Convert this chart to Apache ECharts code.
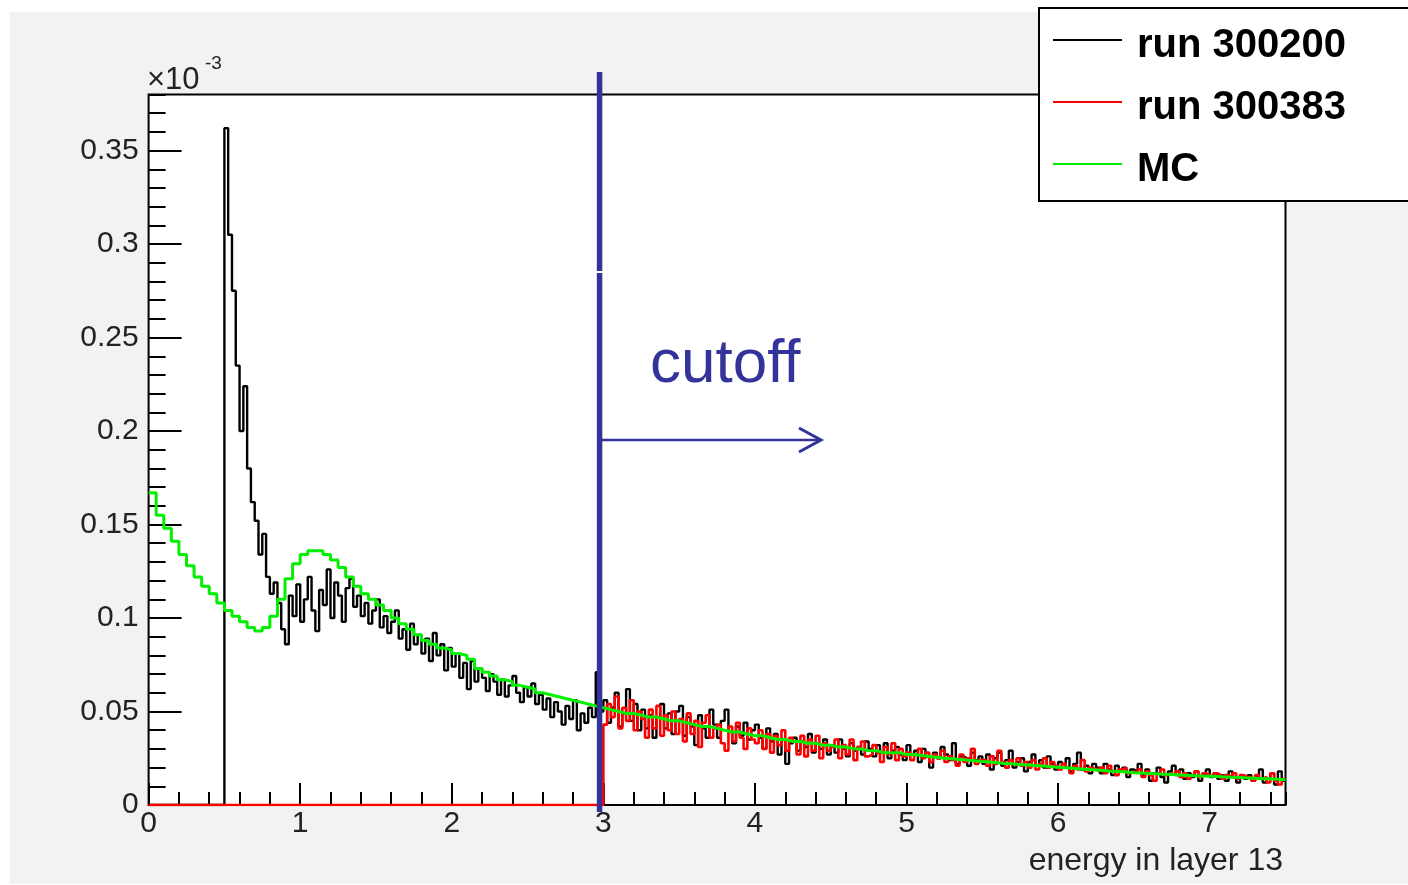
<!DOCTYPE html>
<html>
<head>
<meta charset="utf-8">
<script src="https://cdn.jsdelivr.net/npm/echarts@6/dist/echarts.min.js"></script>
<style>
html,body{margin:0;padding:0;background:#fff;}
#chart{width:1408px;height:885px;}
</style>
</head>
<body>
<div id="chart"></div>
<script>
// ---- data (y values in units of 1e-3) ----
const seriesNames = ['run 300200', 'run 300383', 'MC'];
const xTitle = 'energy in layer 13';
const yExponent = '-3';

const blackStart = 0.5, blackBin = 0.025;
const blackValues = [
 0.362,0.305,0.275,0.235,0.200,0.224,0.180,0.162,0.152,0.134,
 0.145,0.122,0.113,0.119,0.108,0.094,0.086,0.112,0.101,0.118,
 0.098,0.110,0.122,0.104,0.093,0.115,0.107,0.126,0.100,0.119,
 0.112,0.098,0.116,0.121,0.106,0.112,0.101,0.108,0.097,0.104,
 0.110,0.095,0.101,0.092,0.098,0.104,0.089,0.094,0.083,0.097,
 0.086,0.091,0.081,0.089,0.077,0.092,0.080,0.086,0.072,0.084,
 0.074,0.081,0.068,0.076,0.062,0.077,0.066,0.073,0.068,0.061,
 0.070,0.066,0.059,0.067,0.058,0.064,0.069,0.060,0.055,0.063,
 0.058,0.065,0.054,0.059,0.051,0.057,0.047,0.055,0.050,0.043,
 0.053,0.046,0.056,0.040,0.049,0.044,0.052,0.047,0.071,0.050,
 0.056,0.044,0.052,0.060,0.042,0.049,0.062,0.045,0.054,0.040,
 0.051,0.041,0.048,0.036,0.047,0.054,0.041,0.049,0.038,0.050,
 0.053,0.037,0.047,0.042,0.032,0.048,0.041,0.036,0.051,0.043,
 0.036,0.045,0.051,0.039,0.033,0.042,0.037,0.044,0.035,0.040,
 0.043,0.036,0.030,0.041,0.034,0.038,0.027,0.035,0.022,0.033,
 0.036,0.029,0.034,0.031,0.038,0.028,0.033,0.030,0.035,0.027,
 0.032,0.028,0.035,0.030,0.026,0.033,0.029,0.031,0.027,0.034,
 0.030,0.026,0.032,0.028,0.033,0.025,0.029,0.031,0.027,0.024,
 0.032,0.027,0.029,0.023,0.030,0.026,0.020,0.028,0.025,0.031,
 0.027,0.024,0.033,0.022,0.026,0.025,0.021,0.028,0.024,0.026,
 0.022,0.027,0.019,0.025,0.028,0.021,0.024,0.029,0.020,0.023,
 0.025,0.018,0.023,0.027,0.021,0.024,0.020,0.026,0.022,0.019,
 0.023,0.020,0.025,0.018,0.022,0.028,0.019,0.021,0.017,0.022,
 0.020,0.017,0.022,0.019,0.016,0.021,0.018,0.020,0.015,0.019,
 0.018,0.022,0.016,0.019,0.013,0.017,0.020,0.015,0.012,0.018,
 0.021,0.016,0.019,0.014,0.017,0.015,0.018,0.013,0.016,0.019,
 0.015,0.017,0.014,0.016,0.013,0.018,0.015,0.012,0.016,0.014,
 0.016,0.013,0.015,0.019,0.012,0.014,0.017,0.011,0.018,0.013
];

const redStart = 3.0, redBin = 0.025;
const redValues = [
 0.043,0.054,0.047,0.058,0.041,0.052,0.045,0.056,0.040,0.050,
 0.046,0.036,0.051,0.041,0.053,0.037,0.048,0.040,0.050,0.038,
 0.046,0.034,0.049,0.038,0.045,0.031,0.044,0.048,0.036,0.041,
 0.043,0.033,0.029,0.042,0.034,0.044,0.036,0.030,0.041,0.035,
 0.033,0.040,0.030,0.038,0.028,0.037,0.032,0.040,0.029,0.036,
 0.034,0.027,0.037,0.026,0.035,0.029,0.037,0.025,0.033,0.029,
 0.031,0.035,0.025,0.032,0.027,0.035,0.024,0.031,0.034,0.026,
 0.027,0.032,0.028,0.023,0.031,0.027,0.033,0.024,0.030,0.026,
 0.028,0.024,0.027,0.030,0.025,0.028,0.023,0.027,0.025,0.029,
 0.023,0.026,0.024,0.021,0.027,0.023,0.025,0.030,0.022,0.024,
 0.024,0.021,0.026,0.022,0.029,0.023,0.020,0.024,0.022,0.025,
 0.021,0.023,0.020,0.024,0.019,0.022,0.025,0.020,0.023,0.021,
 0.019,0.022,0.020,0.017,0.021,0.019,0.024,0.018,0.020,0.019,
 0.018,0.020,0.017,0.021,0.018,0.016,0.019,0.020,0.017,0.018,
 0.017,0.019,0.015,0.018,0.016,0.013,0.017,0.019,0.016,0.017,
 0.016,0.018,0.015,0.017,0.014,0.016,0.018,0.015,0.017,0.016,
 0.015,0.017,0.016,0.014,0.016,0.015,0.017,0.014,0.016,0.015,
 0.015,0.013,0.016,0.014,0.015,0.012,0.017,0.013,0.011,0.014
];

const mcStart = 0.0, mcBin = 0.05;
const mcValues = [
 0.167,0.155,0.148,0.141,0.134,0.128,0.122,0.117,0.113,0.108,
 0.104,0.101,0.098,0.095,0.093,0.095,0.101,0.110,0.121,0.129,
 0.134,0.136,0.136,0.134,0.131,0.127,0.122,0.117,0.113,0.110,
 0.107,0.104,0.100,0.097,0.094,0.091,0.088,0.086,0.084,0.083,
 0.081,0.080,0.078,0.073,0.071,0.069,0.067,0.066,0.064,0.063,
 0.062,0.060,0.059,0.058,0.057,0.056,0.055,0.054,0.053,0.052,
 0.051,0.050,0.049,0.049,0.048,0.047,0.047,0.046,0.045,0.045,
 0.044,0.043,0.042,0.042,0.041,0.040,0.039,0.039,0.038,0.037,
 0.037,0.036,0.035,0.035,0.034,0.034,0.033,0.033,0.032,0.032,
 0.031,0.031,0.030,0.030,0.029,0.029,0.028,0.028,0.028,0.027,
 0.027,0.0265,0.026,0.0255,0.025,0.0247,0.0243,0.024,0.0237,0.0233,
 0.023,0.0226,0.0222,0.022,0.0217,0.0214,0.0211,0.0208,0.0205,0.0202,
 0.0199,0.0196,0.0193,0.019,0.0187,0.0184,0.0181,0.0179,0.0176,0.0173,
 0.0171,0.0169,0.0167,0.0165,0.0163,0.0161,0.0159,0.0157,0.0155,0.0154,
 0.0152,0.015,0.0148,0.0147,0.0145,0.0143,0.0141,0.014,0.0138,0.0135
];

const xMin = 0, xMax = 7.5, xMajor = 1, xMinor = 0.2;
const yMin = 0, yMax = 0.38, yMajor = 0.05, yMinor = 0.01;
const cutoffValue = 2.975;

// ---- build histogram step data ----
function hist(start, bin, vals, leadFromZero) {
  const d = [];
  if (leadFromZero) d.push([xMin, 0]);
  vals.forEach((v, i) => d.push([+(start + i * bin).toFixed(4), v]));
  d.push([+(start + vals.length * bin).toFixed(4), vals[vals.length - 1]]);
  return d;
}

const FONT = '"Liberation Sans", Arial, Helvetica, sans-serif';
const chart = echarts.init(document.getElementById('chart'), null, {renderer: 'canvas'});

const baseAxis = {
  type: 'value', splitLine: {show: false}, axisLine: {show: false}
};

const option = {
  animation: false,
  backgroundColor: '#ffffff',
  grid: {
    left: 148.6, top: 94.5, right: 122.5, bottom: 80,
    show: true, backgroundColor: '#ffffff', borderColor: '#000', borderWidth: 2
  },
  legend: {
    left: 1039, top: 8, orient: 'vertical', selectedMode: false,
    padding: [6, 120, 11, 14], itemGap: 10, itemWidth: 69, itemHeight: 2,
    icon: 'rect',
    backgroundColor: '#ffffff', borderColor: '#000', borderWidth: 2, borderRadius: 0,
    formatter: function (name) { return '{t|' + name + '}'; },
    textStyle: {
      fontSize: 40, fontWeight: 'bold', color: '#000', fontFamily: FONT,
      rich: {t: {fontSize: 40, fontWeight: 'bold', color: '#000', fontFamily: FONT,
                 lineHeight: 44, padding: [12, 0, 0, 10]}}
    },
    data: seriesNames
  },
  xAxis: [
    Object.assign({}, baseAxis, {
      min: xMin, max: xMax, interval: xMajor, position: 'bottom',
      axisTick: {show: true, inside: true, length: 22, lineStyle: {color: '#000', width: 2}},
      axisLabel: {fontSize: 30, color: '#222', fontFamily: FONT, margin: 4,
                  showMaxLabel: false, showMinLabel: true}
    }),
    Object.assign({}, baseAxis, {
      min: xMin, max: xMax, interval: xMinor, position: 'bottom',
      axisTick: {show: true, inside: true, length: 13, lineStyle: {color: '#000', width: 2}},
      axisLabel: {show: false}
    })
  ],
  yAxis: [
    Object.assign({}, baseAxis, {
      min: yMin, max: yMax, interval: yMajor, position: 'left',
      axisTick: {show: true, inside: true, length: 33, lineStyle: {color: '#000', width: 2}},
      axisLabel: {fontSize: 30, color: '#222', fontFamily: FONT, margin: 10,
                  showMaxLabel: false}
    }),
    Object.assign({}, baseAxis, {
      min: yMin, max: yMax, interval: yMinor, position: 'left',
      axisTick: {show: true, inside: true, length: 17, lineStyle: {color: '#000', width: 2}},
      axisLabel: {show: false}
    })
  ],
  series: [
    {name: seriesNames[0], type: 'line', step: 'end', symbol: 'none', xAxisIndex: 0, yAxisIndex: 0,
     color: '#000000', lineStyle: {color: '#000000', width: 2.4},
     data: hist(blackStart, blackBin, blackValues, true)},
    {name: seriesNames[1], type: 'line', step: 'end', symbol: 'none', xAxisIndex: 0, yAxisIndex: 0,
     color: '#ff0000', lineStyle: {color: '#ff0000', width: 2.6},
     data: hist(redStart, redBin, redValues, true)},
    {name: seriesNames[2], type: 'line', step: 'end', symbol: 'none', xAxisIndex: 0, yAxisIndex: 0,
     color: '#00f000', lineStyle: {color: '#00f000', width: 3},
     data: hist(mcStart, mcBin, mcValues, false)}
  ]
};
chart.setOption(option);

// ---- annotations (overlay) ----
const cx = chart.convertToPixel({xAxisIndex: 0}, cutoffValue);
const BLUE = '#333399';
chart.setOption({
  graphic: [
    {type: 'rect', z: -100, silent: true, shape: {x: 10, y: 12, width: 1398, height: 872},
     style: {fill: '#f2f2f2'}},
    {type: 'text', z: 50, style: {text: '\u00d710', x: 147, y: 80, fontSize: 31, fontFamily: FONT,
      fill: '#222', verticalAlign: 'middle', align: 'left'}},
    {type: 'text', z: 50, style: {text: yExponent, x: 205, y: 64, fontSize: 19, fontFamily: FONT,
      fill: '#222', verticalAlign: 'middle', align: 'left'}},
    {type: 'text', z: 50, style: {text: xTitle, x: 1283, y: 861, fontSize: 32, fontFamily: FONT,
      fill: '#222', verticalAlign: 'middle', align: 'right'}},
    {type: 'line', z: 100, shape: {x1: cx, y1: 72, x2: cx, y2: 271}, style: {stroke: BLUE, lineWidth: 5.5}},
    {type: 'line', z: 100, shape: {x1: cx, y1: 273, x2: cx, y2: 812}, style: {stroke: BLUE, lineWidth: 5.5}},
    {type: 'line', z: 100, shape: {x1: cx, y1: 440, x2: 820, y2: 440}, style: {stroke: BLUE, lineWidth: 2.5}},
    {type: 'polyline', z: 100, shape: {points: [[799, 428], [821, 440], [799, 452]]},
     style: {stroke: BLUE, lineWidth: 3, fill: null, lineJoin: 'miter'}},
    {type: 'text', z: 100, style: {text: 'cutoff', x: 650, y: 365, fontSize: 62, fontFamily: FONT,
      fill: BLUE, verticalAlign: 'middle', align: 'left'}}
  ]
});
</script>
</body>
</html>
